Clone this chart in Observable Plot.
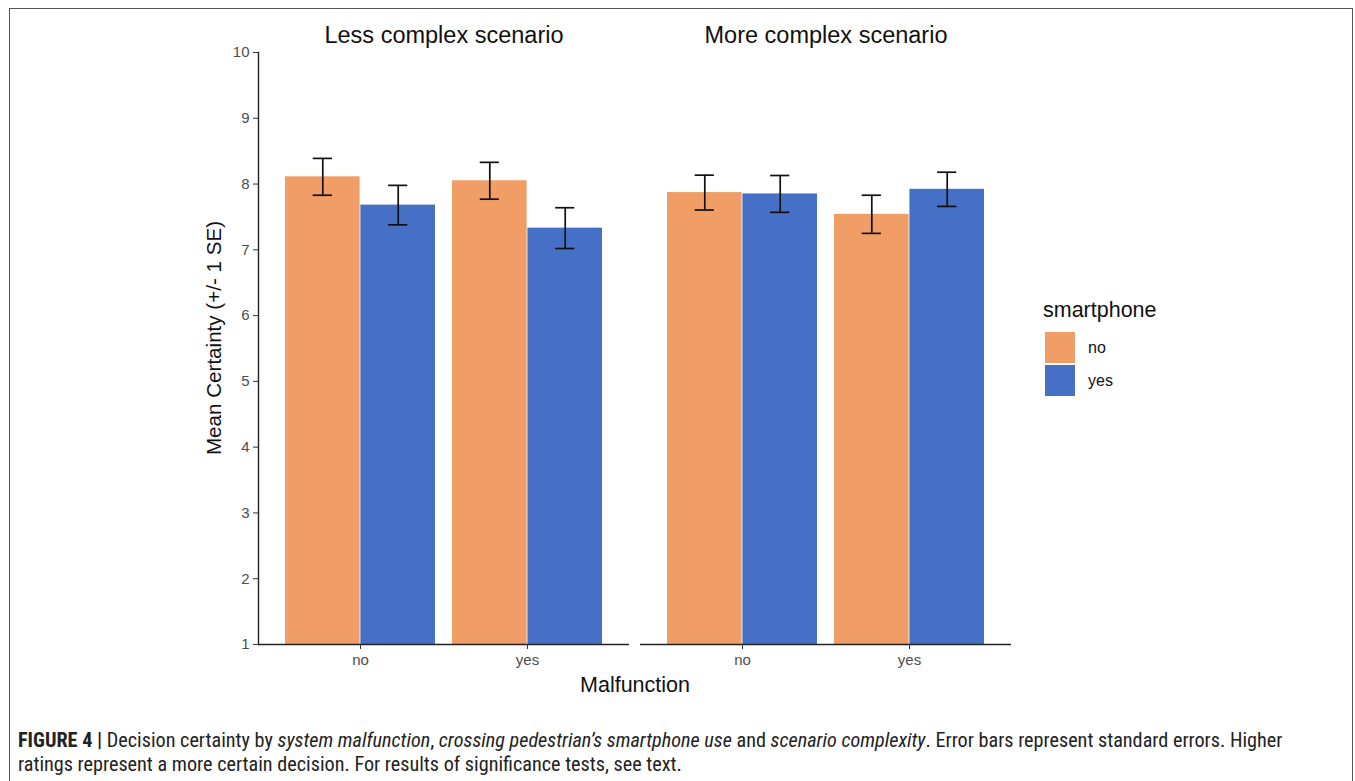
<!DOCTYPE html>
<html>
<head>
<meta charset="utf-8">
<script src="https://cdn.jsdelivr.net/npm/d3@7"></script>
<script src="https://cdn.jsdelivr.net/npm/@observablehq/plot@0.6"></script>
<style>
  html, body { margin: 0; padding: 0; background: #fff; }
  #fig { position: relative; width: 1355px; height: 781px; overflow: hidden; font-family: "Liberation Sans", Arial, sans-serif; }
  #border { position: absolute; left: 9px; top: 8px; width: 1344px; height: 820px; border: 1px solid #555; box-sizing: border-box; }
  #chart { position: absolute; left: 0; top: 0; }
  #ylab { position: absolute; left: 214px; top: 338px; transform: translate(-50%, -50%) rotate(-90deg); font-size: 20.6px; color: #111; white-space: nowrap; }
  #xlab { position: absolute; left: 635px; top: 685px; transform: translate(-50%, -50%); font-size: 21.5px; color: #111; white-space: nowrap; }
  #legend { position: absolute; left: 1043px; top: 297px; }
  #legend .title { font-size: 21.5px; color: #111; margin-bottom: 8px; line-height: 26px; }
  #legend .row { display: flex; align-items: center; height: 33px; }
  #legend .sw { width: 30px; height: 31px; margin-left: 2px; margin-right: 13px; }
  #legend .lab { font-size: 16px; color: #111; }
  #caption { position: absolute; left: 18px; top: 728px; font-family: "Liberation Sans Narrow", "Roboto Condensed", "Liberation Sans", Arial, sans-serif; font-size: 20.2px; line-height: 24px; color: #222; white-space: nowrap; }
  #caption b { font-weight: bold; }
</style>
</head>
<body>
<div id="fig">
  <div id="border"></div>
  <div id="chart"></div>
  <div id="ylab">Mean Certainty (+/- 1 SE)</div>
  <div id="xlab">Malfunction</div>
  <div id="legend"></div>
  <div id="caption"><b>FIGURE 4 |</b> Decision certainty by <i>system malfunction</i>, <i>crossing pedestrian’s smartphone use</i> and <i>scenario complexity</i>. Error bars represent standard errors. Higher<br>ratings represent a more certain decision. For results of significance tests, see text.</div>
</div>
<script>
// ---- data ----
const scenarios = ["Less complex scenario", "More complex scenario"];
const malfunction = ["no", "yes"];
const smartphone = ["no", "yes"];
const colors = ["#F09D66", "#4570C6"];
const yTicks = [1, 2, 3, 4, 5, 6, 7, 8, 9, 10];
// order: scenario -> malfunction -> smartphone
const means = [8.11, 7.68, 8.05, 7.33, 7.87, 7.85, 7.54, 7.92];
const ses   = [0.28, 0.30, 0.28, 0.31, 0.265, 0.28, 0.29, 0.26];

const rows = [];
let k = 0;
for (const s of scenarios) for (const m of malfunction) for (const p of smartphone) {
  rows.push({scenario: s, malfunction: m, smartphone: p, mean: means[k], se: ses[k]});
  k++;
}

// ---- layout ----
const W = 1030, H = 700, mL = 258, mR = 19, mT = 52, mB = 56;
const fxPad = 0.0288;
const xPadIn = 0.1, xPadOut = 0.157;
const facetBw = (W - mL - mR) / (2 - fxPad) * (1 - fxPad);
const xStep = facetBw / (malfunction.length - xPadIn + 2 * xPadOut);
const groupBw = xStep * (1 - xPadIn);
const half = groupBw / 2;
const capW = 20;

const isNo = d => d.smartphone === smartphone[0];
const isYes = d => d.smartphone === smartphone[1];

const chart = Plot.plot({
  width: W, height: H,
  marginLeft: mL, marginRight: mR, marginTop: mT, marginBottom: mB,
  style: {fontFamily: "'Liberation Sans', Arial, sans-serif", background: "transparent", overflow: "visible"},
  fx: {domain: scenarios, paddingInner: fxPad, paddingOuter: 0, label: null},
  x: {domain: malfunction, paddingInner: xPadIn, paddingOuter: xPadOut, label: null},
  y: {domain: [yTicks[0], yTicks[yTicks.length - 1]], label: null},
  color: {domain: smartphone, range: colors},
  marks: [
    Plot.barY(rows, {filter: isNo, fx: "scenario", x: "malfunction", y1: yTicks[0], y2: "mean", fill: "smartphone", insetLeft: 0, insetRight: half}),
    Plot.barY(rows, {filter: isYes, fx: "scenario", x: "malfunction", y1: yTicks[0], y2: "mean", fill: "smartphone", insetLeft: half, insetRight: 0}),
    Plot.ruleX(rows, {filter: isNo, fx: "scenario", x: "malfunction", y1: d => d.mean - d.se, y2: d => d.mean + d.se, dx: -half / 2, stroke: "#111", strokeWidth: 1.7}),
    Plot.ruleX(rows, {filter: isYes, fx: "scenario", x: "malfunction", y1: d => d.mean - d.se, y2: d => d.mean + d.se, dx: half / 2, stroke: "#111", strokeWidth: 1.7}),
    Plot.tickY(rows, {filter: isNo, fx: "scenario", x: "malfunction", y: d => d.mean + d.se, insetLeft: half / 2 - capW / 2, insetRight: groupBw - half / 2 - capW / 2, stroke: "#111", strokeWidth: 1.7}),
    Plot.tickY(rows, {filter: isNo, fx: "scenario", x: "malfunction", y: d => d.mean - d.se, insetLeft: half / 2 - capW / 2, insetRight: groupBw - half / 2 - capW / 2, stroke: "#111", strokeWidth: 1.7}),
    Plot.tickY(rows, {filter: isYes, fx: "scenario", x: "malfunction", y: d => d.mean + d.se, insetLeft: groupBw - half / 2 - capW / 2, insetRight: half / 2 - capW / 2, stroke: "#111", strokeWidth: 1.7}),
    Plot.tickY(rows, {filter: isYes, fx: "scenario", x: "malfunction", y: d => d.mean - d.se, insetLeft: groupBw - half / 2 - capW / 2, insetRight: half / 2 - capW / 2, stroke: "#111", strokeWidth: 1.7}),
    Plot.ruleY([yTicks[0]], {stroke: "#222", strokeWidth: 1.4}),
    Plot.frame({anchor: "left", facetAnchor: "left", stroke: "#222", strokeWidth: 1.4}),
    Plot.axisY({ticks: yTicks, tickSize: 5, tickPadding: 4, fontSize: 15, color: "#4d4d4d", stroke: "#333", label: null}),
    Plot.axisX({tickSize: 5, tickPadding: 5, fontSize: 15, color: "#4d4d4d", stroke: "#333", label: null}),
    Plot.axisFx({anchor: "top", tickSize: 0, tickPadding: 10, fontSize: 23.5, color: "#111", label: null})
  ]
});
document.getElementById("chart").appendChild(chart);

// ---- legend ----
const leg = document.getElementById("legend");
const t = document.createElement("div");
t.className = "title"; t.textContent = "smartphone";
leg.appendChild(t);
smartphone.forEach((p, i) => {
  const r = document.createElement("div"); r.className = "row";
  const sw = document.createElement("div"); sw.className = "sw"; sw.style.background = colors[i];
  const lab = document.createElement("div"); lab.className = "lab"; lab.textContent = p;
  r.appendChild(sw); r.appendChild(lab); leg.appendChild(r);
});
</script>
</body>
</html>
